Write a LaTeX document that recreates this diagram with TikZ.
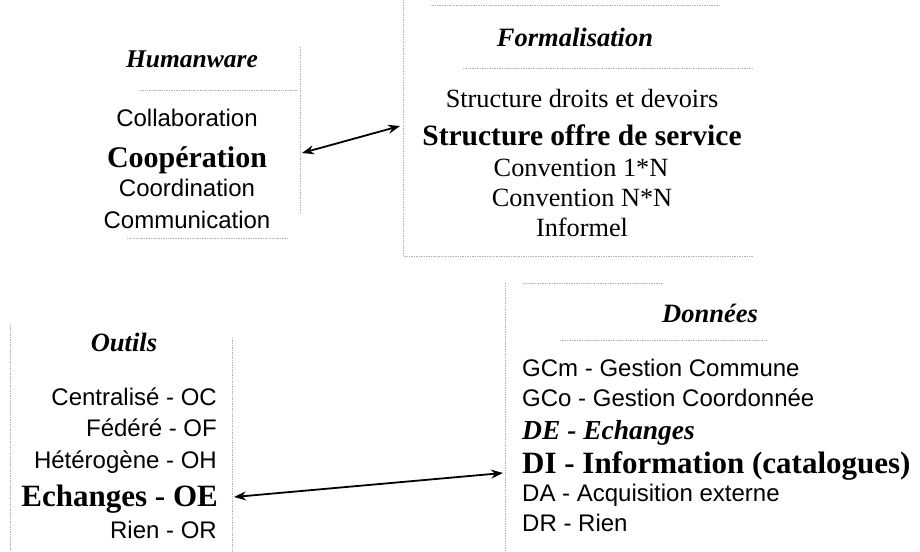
\documentclass[tikz,border=0pt]{standalone}
\usepackage{fontspec}
\setmainfont{Liberation Serif}
\newfontfamily\optimafont{Liberation Sans}
\usetikzlibrary{arrows.meta}

\begin{document}
\begin{tikzpicture}[x=1pt, y=-1pt,
      every node/.append style={inner sep=0pt, anchor=base},
      heading/.style={font=\fontsize{26.5}{31}\selectfont\bfseries\itshape},
      entry/.style={font=\optimafont\fontsize{24}{28}\selectfont},
      entryserif/.style={font=\fontsize{26.3}{31}\selectfont},
      chosen/.style={font=\fontsize{31}{37}\selectfont\bfseries},
      frame/.style={gray!60, densely dotted, line width=0.7pt},
      link/.style={<->, >={Stealth[length=12pt,width=9pt]}, line width=1.8pt}]
    \useasboundingbox (0,0) rectangle (920,551);

    % Humanware
    \node (humanware) [heading, font=\fontsize{25.5}{30}\selectfont\bfseries\itshape] at (192,67) {Humanware};
    \node (collab) [entry] at (187,126) {Collaboration};
    \node (coop) [chosen, font=\fontsize{30}{36}\selectfont\bfseries] at (187,167) {Coopération};
    \node (coord) [entry] at (187,196) {Coordination};
    \node (comm) [entry] at (187,228) {Communication};

    % Formalisation
    \node (formal) [heading] at (575,47) {Formalisation};
    \node (droits) [entryserif] at (582,107) {Structure droits et devoirs};
    \node (offre) [chosen, font=\fontsize{29.5}{36}\selectfont\bfseries] at (582,145) {Structure offre de service};
    \node (conv1) [entryserif] at (581,176) {Convention 1*N};
    \node (convN) [entryserif] at (582,206) {Convention N*N};
    \node (informel) [entryserif] at (582,236) {Informel};

    % Outils
    \node (outils) [heading] at (124,351) {Outils};
    \node (oc) [entry, anchor=base east] at (217,405) {Centralisé - OC};
    \node (of) [entry, anchor=base east] at (217,436) {Fédéré - OF};
    \node (oh) [entry, anchor=base east] at (217,468) {Hétérogène - OH};
    \node (oe) [chosen, anchor=base east] at (218,506) {Echanges - OE};
    \node (or) [entry, anchor=base east] at (217,538) {Rien - OR};

    % Donnees
    \node (donnees) [heading] at (710,322) {Données};
    \node (gcm) [entry, anchor=base west] at (522,376) {GCm - Gestion Commune};
    \node (gco) [entry, anchor=base west] at (522,406) {GCo - Gestion Coordonnée};
    \node (de) [heading, font=\fontsize{27.5}{32}\selectfont\bfseries\itshape, anchor=base west] at (522,439) {DE - Echanges};
    \node (di) [chosen, anchor=base west] at (522,473) {DI - Information (catalogues)};
    \node (da) [entry, anchor=base west] at (522,501) {DA - Acquisition externe};
    \node (dr) [entry, anchor=base west] at (522,531) {DR - Rien};

    % what is left of the frames
    \draw[frame] (140,90) -- (298,90);
    \draw[frame] (300,47) -- (300,213);
    \draw[frame] (127,238) -- (287,238);
    \draw[frame] (430,5) -- (720,5);
    \draw[frame] (403,0) -- (403,256) -- (753,256);
    \draw[frame] (463,68) -- (753,68);
    \draw[frame] (10,325) -- (10,551);
    \draw[frame] (232,338) -- (232,551);
    \draw[frame] (523,283) -- (663,283);
    \draw[frame] (560,340) -- (767,340);
    \draw[frame] (505,283) -- (505,551);

    \coordinate (hw-e) at (302,153);
    \coordinate (fo-w) at (400,126);
    \coordinate (ou-e) at (234,497);
    \coordinate (do-w) at (503,473);
    \draw[link] (hw-e) -- (fo-w);
    \draw[link] (ou-e) -- (do-w);
  \end{tikzpicture}
\end{document}
